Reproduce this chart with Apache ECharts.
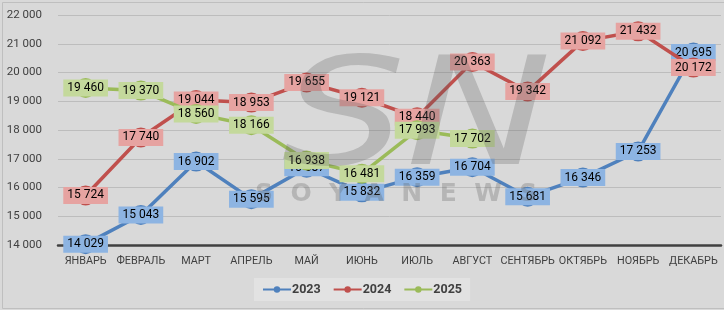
<!DOCTYPE html>
<html><head><meta charset="utf-8">
<script src="https://cdn.jsdelivr.net/npm/echarts@6/dist/echarts.min.js"></script>
<style>html,body{margin:0;padding:0;background:#d9d9d9}#c{width:724px;height:310px}</style>
</head><body><div id="c"></div>
<script>
const categories = ['ЯНВАРЬ','ФЕВРАЛЬ','МАРТ','АПРЕЛЬ','МАЙ','ИЮНЬ','ИЮЛЬ','АВГУСТ','СЕНТЯБРЬ','ОКТЯБРЬ','НОЯБРЬ','ДЕКАБРЬ'];
const v2023 = [14029,15043,16902,15595,16687,15832,16359,16704,15681,16346,17253,20695];
const v2024 = [15724,17740,19044,18953,19655,19121,18440,20363,19342,21092,21432,20172];
const v2025 = [19460,19370,18560,18166,16938,16481,17993,17702];
const seriesNames = ['2023','2024','2025'];
const yMin = 14000, yMax = 22000, yStep = 1000;

const fmt = v => String(v).replace(/\B(?=(\d{3})+(?!\d))/g, ' ');
const lineColors = ['#4F81BD','#C0504D','#9BBB59'];
const boxColors = ['#8DB4E2','#E6A3A1','#C4D99C'];
const font = 'Roboto, "Liberation Sans", sans-serif';

function mk(name, data, i){
  return {
    name, type:'line', data, symbol:'circle', symbolSize:20,
    itemStyle:{color:lineColors[i]},
    lineStyle:{color:lineColors[i], width:3.5},
    z: 2+i,
    label:{show:true, position:'inside', formatter:p=>fmt(p.value), color:'#000',
      fontFamily:font, fontSize:12, backgroundColor:boxColors[i], padding:[3,4,2,4]},
    emphasis:{disabled:true}, animation:false
  };
}
const chart = echarts.init(document.getElementById('c'));
chart.setOption({
  backgroundColor:'#d9d9d9',
  animation:false,
  grid:{left:58, right:3, top:15, bottom:65},
  legend:{bottom:9, left:'center', data:seriesNames, backgroundColor:'#e2e2e2', padding:[5,8],
    itemGap:12, itemWidth:28, itemHeight:8,
    textStyle:{fontFamily:font, fontSize:12.5, fontWeight:'bold', color:'#404040', padding:[0,0,0,-4]}},
  xAxis:{type:'category', data:categories, boundaryGap:true,
    axisLine:{lineStyle:{color:'#404040', width:2.5}}, axisTick:{show:false},
    axisLabel:{fontFamily:font, fontSize:10.8, color:'#404040', margin:11, interval:0}},
  yAxis:{type:'value', min:yMin, max:yMax, interval:yStep,
    axisLine:{show:false}, axisTick:{show:false},
    splitLine:{lineStyle:{color:'#bdbdbd', width:1}},
    axisLabel:{fontFamily:font, fontSize:11.5, color:'#404040', margin:16, formatter:v=>fmt(v)}},
  series:[mk('2023',v2023,0), mk('2024',v2024,1), mk('2025',v2025,2)],
  graphic:[
    {type:'text', x:282, y:50, scaleX:1.3, z:100, silent:true,
      style:{text:'SN', font:'italic 150px "DejaVu Sans", sans-serif', fill:'rgba(90,90,90,0.26)'}},
    {type:'text', left:255, top:182, z:100, silent:true,
      style:{text:'S  O  Y  A  N  E  W  S', font:'bold 25px "DejaVu Sans", sans-serif', fill:'rgba(90,90,90,0.28)'}},
    {type:'rect', left:0, top:0, z:-1, silent:true, shape:{width:723, height:306}, style:{fill:'none', stroke:'#bfbfbf', lineWidth:1}}
  ]
});
</script></body></html>
